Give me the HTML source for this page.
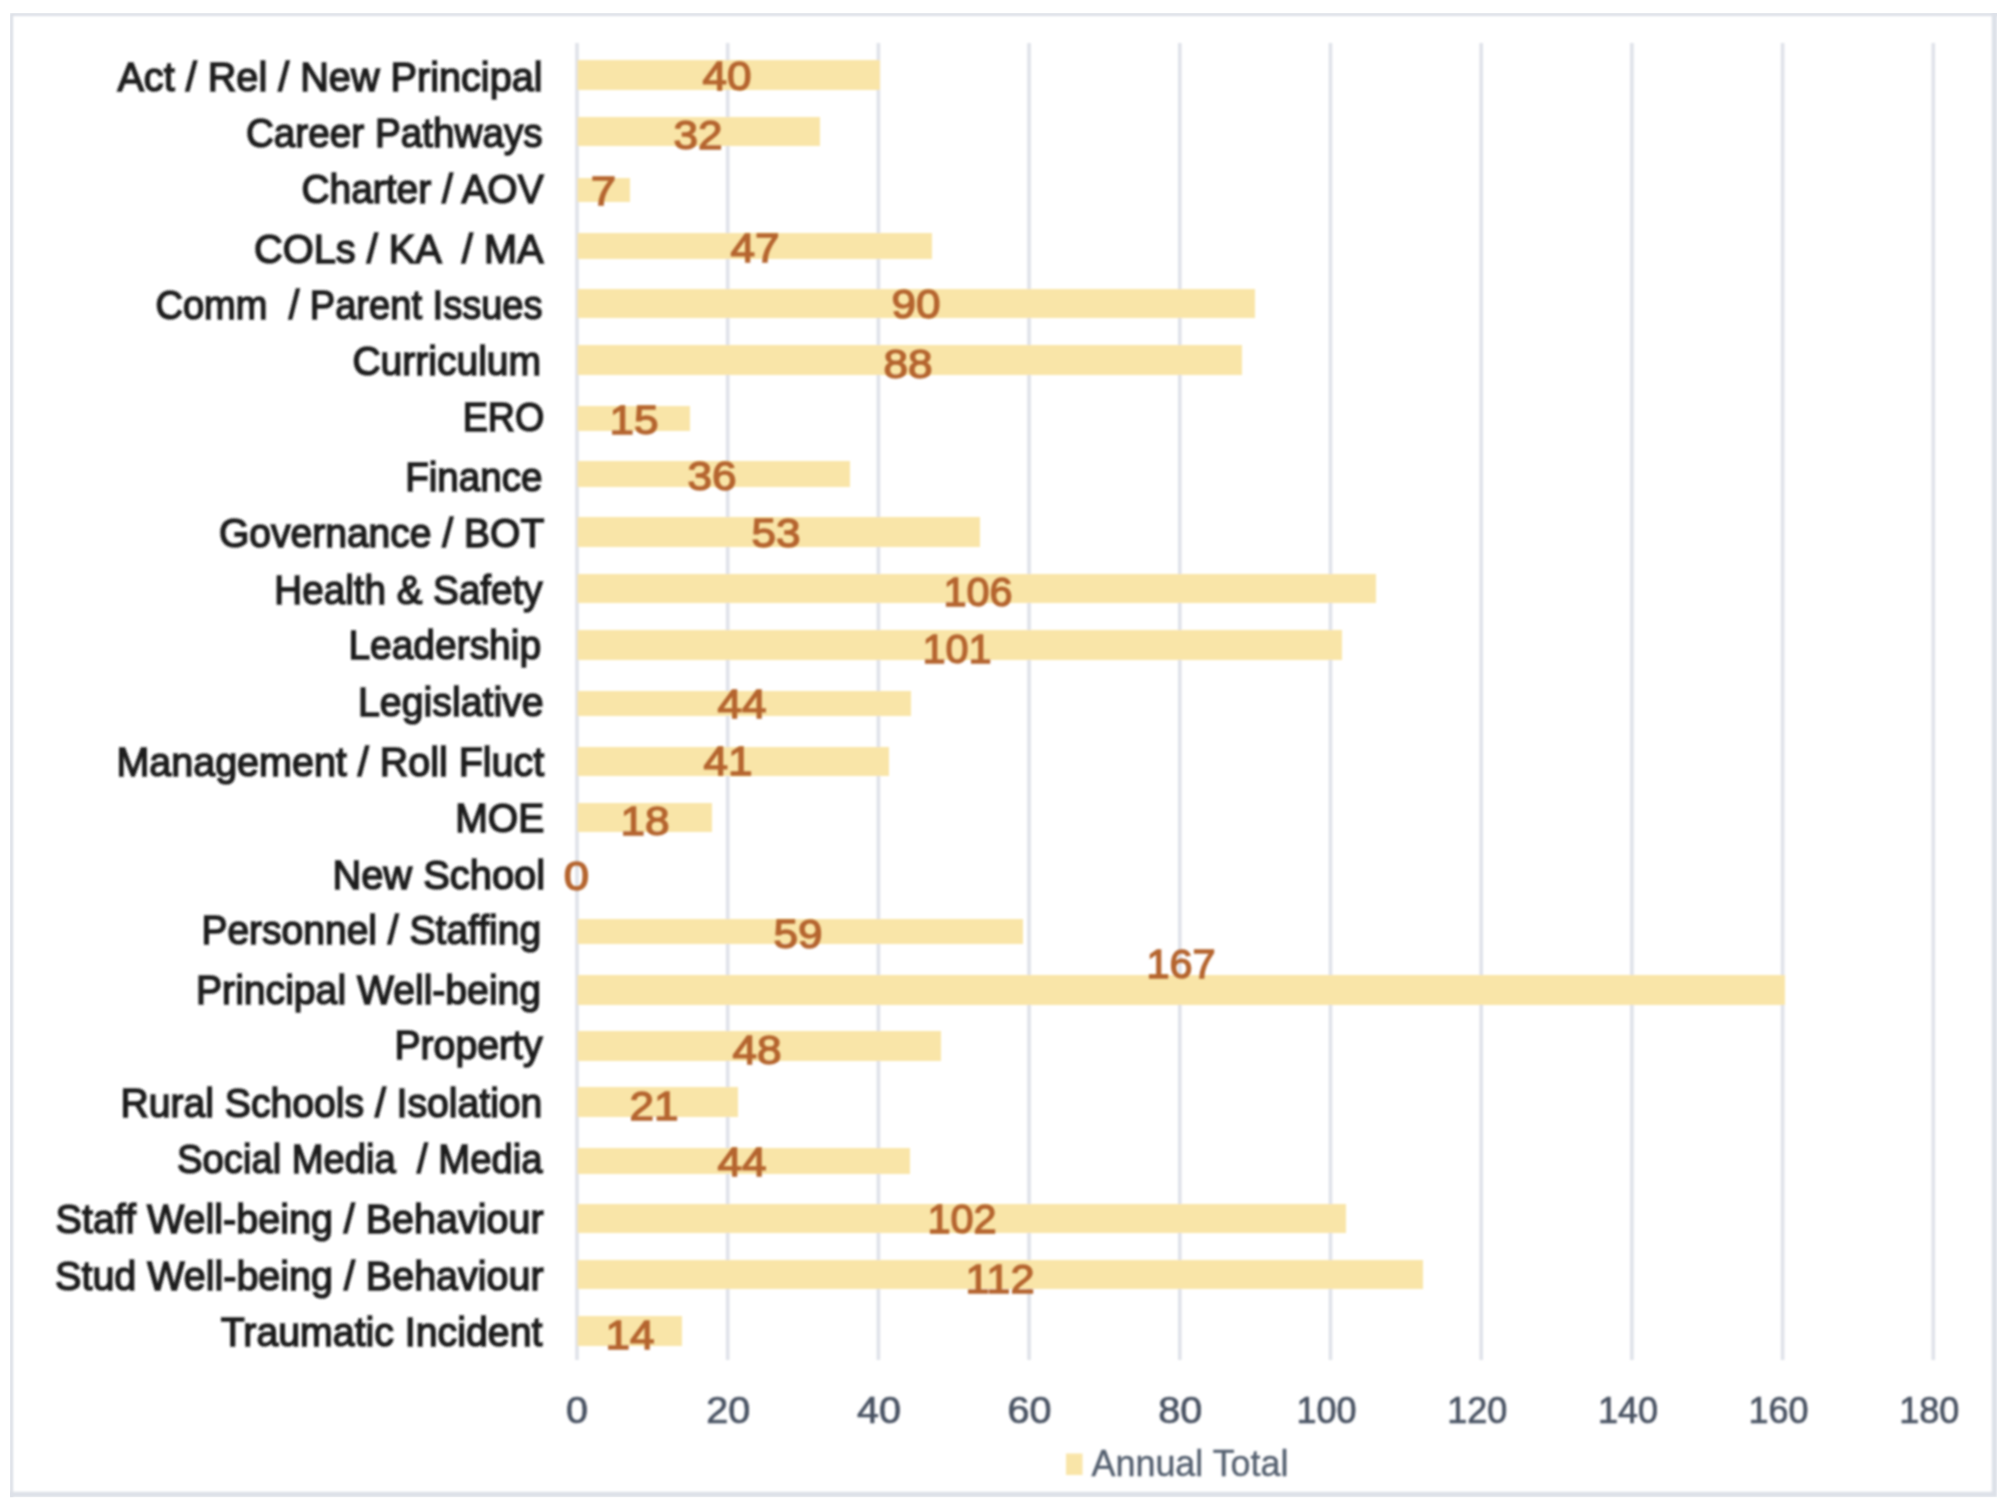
<!DOCTYPE html>
<html>
<head>
<meta charset="utf-8">
<title>Annual Total</title>
<style>
html, body { margin: 0; padding: 0; background: #ffffff; }
body { width: 2000px; height: 1500px; overflow: hidden; font-family: "Liberation Sans", sans-serif; }
svg { display: block; }
text { font-family: "Liberation Sans", sans-serif; }
.cat { white-space: pre; fill: #1c1c1c; stroke: #1c1c1c; stroke-width: 1.5px; font-size: 41.5px; }
.val { fill: #b5652e; stroke: #b5652e; stroke-width: 1.4px; font-size: 41.5px; text-anchor: middle; }
.ax  { fill: #4a5363; stroke: #4a5363; stroke-width: 0.7px; font-size: 36px; text-anchor: middle; }
.leg { fill: #556070; stroke: #556070; stroke-width: 0.4px; font-size: 36px; }
</style>
</head>
<body>
<svg width="2000" height="1500" viewBox="0 0 2000 1500">
<defs>
<filter id="b" x="-2%" y="-2%" width="104%" height="104%"><feGaussianBlur stdDeviation="1.0"/></filter>
<clipPath id="fc"><rect x="10" y="13" width="1987" height="1484.2"/></clipPath>
<filter id="t" x="-2%" y="-2%" width="104%" height="104%"><feGaussianBlur stdDeviation="1.25"/></filter>
</defs>
<rect x="0" y="0" width="2000" height="1500" fill="#ffffff"/>

<g clip-path="url(#fc)"><g filter="url(#b)">
<path d="M11.4 1500 V14.4 H2000" fill="none" stroke="#dbdfe6" stroke-width="3.4"/>
<path d="M5 1494.5 H1994.5 V5" fill="none" stroke="#dde1e8" stroke-width="5.4"/>
</g></g>
<g filter="url(#b)">
<line x1="577.0" y1="43" x2="577.0" y2="1360" stroke="#dfe2e9" stroke-width="3.6"/>
<line x1="727.7" y1="43" x2="727.7" y2="1360" stroke="#dfe2e9" stroke-width="3.6"/>
<line x1="878.4" y1="43" x2="878.4" y2="1360" stroke="#dfe2e9" stroke-width="3.6"/>
<line x1="1029.1" y1="43" x2="1029.1" y2="1360" stroke="#dfe2e9" stroke-width="3.6"/>
<line x1="1179.8" y1="43" x2="1179.8" y2="1360" stroke="#dfe2e9" stroke-width="3.6"/>
<line x1="1330.5" y1="43" x2="1330.5" y2="1360" stroke="#dfe2e9" stroke-width="3.6"/>
<line x1="1481.2" y1="43" x2="1481.2" y2="1360" stroke="#dfe2e9" stroke-width="3.6"/>
<line x1="1631.9" y1="43" x2="1631.9" y2="1360" stroke="#dfe2e9" stroke-width="3.6"/>
<line x1="1782.6" y1="43" x2="1782.6" y2="1360" stroke="#dfe2e9" stroke-width="3.6"/>
<line x1="1933.3" y1="43" x2="1933.3" y2="1360" stroke="#dfe2e9" stroke-width="3.6"/>
<rect x="577.5" y="60.0" width="302.5" height="30.0" fill="#f9e5a8"/>
<rect x="577.5" y="117.0" width="242.5" height="29.0" fill="#f9e5a8"/>
<rect x="577.5" y="178.0" width="52.5" height="24.0" fill="#f9e5a8"/>
<rect x="577.5" y="233.0" width="354.5" height="26.0" fill="#f9e5a8"/>
<rect x="577.5" y="289.0" width="677.5" height="29.0" fill="#f9e5a8"/>
<rect x="577.5" y="345.0" width="664.5" height="30.0" fill="#f9e5a8"/>
<rect x="577.5" y="406.0" width="112.5" height="25.0" fill="#f9e5a8"/>
<rect x="577.5" y="461.0" width="272.5" height="26.0" fill="#f9e5a8"/>
<rect x="577.5" y="517.0" width="402.5" height="30.0" fill="#f9e5a8"/>
<rect x="577.5" y="574.0" width="798.5" height="29.0" fill="#f9e5a8"/>
<rect x="577.5" y="630.0" width="764.5" height="30.0" fill="#f9e5a8"/>
<rect x="577.5" y="691.0" width="333.5" height="25.0" fill="#f9e5a8"/>
<rect x="577.5" y="747.0" width="311.5" height="29.0" fill="#f9e5a8"/>
<rect x="577.5" y="803.0" width="134.5" height="29.0" fill="#f9e5a8"/>
<rect x="577.5" y="919.0" width="445.5" height="25.0" fill="#f9e5a8"/>
<rect x="577.5" y="975.0" width="1207.5" height="30.0" fill="#f9e5a8"/>
<rect x="577.5" y="1031.0" width="363.5" height="30.0" fill="#f9e5a8"/>
<rect x="577.5" y="1087.0" width="160.5" height="30.0" fill="#f9e5a8"/>
<rect x="577.5" y="1148.0" width="332.5" height="26.0" fill="#f9e5a8"/>
<rect x="577.5" y="1204.0" width="768.5" height="29.0" fill="#f9e5a8"/>
<rect x="577.5" y="1260.0" width="845.5" height="29.0" fill="#f9e5a8"/>
<rect x="577.5" y="1316.0" width="104.5" height="30.0" fill="#f9e5a8"/>
<rect x="1066" y="1453.5" width="16.5" height="21.5" fill="#f9e5a8"/>
</g>
<g filter="url(#t)">
<text class="cat" x="117.4" y="90.8" textLength="425.2" lengthAdjust="spacingAndGlyphs" xml:space="preserve">Act / Rel / New Principal</text>
<text class="cat" x="245.9" y="146.6" textLength="296.7" lengthAdjust="spacingAndGlyphs" xml:space="preserve">Career Pathways</text>
<text class="cat" x="301.4" y="202.8" textLength="242.2" lengthAdjust="spacingAndGlyphs" xml:space="preserve">Charter / AOV</text>
<text class="cat" x="254.0" y="262.7" textLength="289.6" lengthAdjust="spacingAndGlyphs" xml:space="preserve">COLs / KA  / MA</text>
<text class="cat" x="155.4" y="318.9" textLength="387.2" lengthAdjust="spacingAndGlyphs" xml:space="preserve">Comm  / Parent Issues</text>
<text class="cat" x="352.4" y="374.8" textLength="188.7" lengthAdjust="spacingAndGlyphs" xml:space="preserve">Curriculum</text>
<text class="cat" x="462.7" y="431.3" textLength="81.6" lengthAdjust="spacingAndGlyphs" xml:space="preserve">ERO</text>
<text class="cat" x="405.2" y="490.7" textLength="137.2" lengthAdjust="spacingAndGlyphs" xml:space="preserve">Finance</text>
<text class="cat" x="218.9" y="547.4" textLength="325.4" lengthAdjust="spacingAndGlyphs" xml:space="preserve">Governance / BOT</text>
<text class="cat" x="274.3" y="603.5" textLength="268.3" lengthAdjust="spacingAndGlyphs" xml:space="preserve">Health &amp; Safety</text>
<text class="cat" x="348.4" y="659.4" textLength="192.7" lengthAdjust="spacingAndGlyphs" xml:space="preserve">Leadership</text>
<text class="cat" x="358.0" y="716.0" textLength="185.6" lengthAdjust="spacingAndGlyphs" xml:space="preserve">Legislative</text>
<text class="cat" x="116.4" y="776.2" textLength="427.9" lengthAdjust="spacingAndGlyphs" xml:space="preserve">Management / Roll Fluct</text>
<text class="cat" x="455.2" y="832.0" textLength="89.1" lengthAdjust="spacingAndGlyphs" xml:space="preserve">MOE</text>
<text class="cat" x="332.4" y="888.7" textLength="212.7" lengthAdjust="spacingAndGlyphs" xml:space="preserve">New School</text>
<text class="cat" x="201.4" y="944.0" textLength="339.7" lengthAdjust="spacingAndGlyphs" xml:space="preserve">Personnel / Staffing</text>
<text class="cat" x="196.0" y="1003.5" textLength="345.1" lengthAdjust="spacingAndGlyphs" xml:space="preserve">Principal Well-being</text>
<text class="cat" x="394.4" y="1058.8" textLength="148.2" lengthAdjust="spacingAndGlyphs" xml:space="preserve">Property</text>
<text class="cat" x="120.4" y="1116.7" textLength="422.0" lengthAdjust="spacingAndGlyphs" xml:space="preserve">Rural Schools / Isolation</text>
<text class="cat" x="177.1" y="1172.9" textLength="365.3" lengthAdjust="spacingAndGlyphs" xml:space="preserve">Social Media  / Media</text>
<text class="cat" x="55.6" y="1232.8" textLength="488.0" lengthAdjust="spacingAndGlyphs" xml:space="preserve">Staff Well-being / Behaviour</text>
<text class="cat" x="55.1" y="1289.5" textLength="488.5" lengthAdjust="spacingAndGlyphs" xml:space="preserve">Stud Well-being / Behaviour</text>
<text class="cat" x="220.8" y="1345.6" textLength="321.6" lengthAdjust="spacingAndGlyphs" xml:space="preserve">Traumatic Incident</text>
<text class="val" x="727.0" y="89.6" textLength="49.1" lengthAdjust="spacingAndGlyphs">40</text>
<text class="val" x="698.0" y="148.8" textLength="49.1" lengthAdjust="spacingAndGlyphs">32</text>
<text class="val" x="603.5" y="204.8" textLength="25.4" lengthAdjust="spacingAndGlyphs">7</text>
<text class="val" x="755.0" y="261.6" textLength="49.1" lengthAdjust="spacingAndGlyphs">47</text>
<text class="val" x="916.0" y="317.6" textLength="49.1" lengthAdjust="spacingAndGlyphs">90</text>
<text class="val" x="908.0" y="377.8" textLength="49.1" lengthAdjust="spacingAndGlyphs">88</text>
<text class="val" x="634.0" y="433.8" textLength="49.1" lengthAdjust="spacingAndGlyphs">15</text>
<text class="val" x="712.0" y="489.8" textLength="49.1" lengthAdjust="spacingAndGlyphs">36</text>
<text class="val" x="776.0" y="546.8" textLength="49.1" lengthAdjust="spacingAndGlyphs">53</text>
<text class="val" x="978.0" y="605.8" textLength="69.2" lengthAdjust="spacingAndGlyphs">106</text>
<text class="val" x="957.0" y="662.8" textLength="69.2" lengthAdjust="spacingAndGlyphs">101</text>
<text class="val" x="742.0" y="717.6" textLength="49.1" lengthAdjust="spacingAndGlyphs">44</text>
<text class="val" x="728.0" y="774.8" textLength="49.1" lengthAdjust="spacingAndGlyphs">41</text>
<text class="val" x="645.0" y="834.8" textLength="49.1" lengthAdjust="spacingAndGlyphs">18</text>
<text class="val" x="576.5" y="889.8" textLength="25.4" lengthAdjust="spacingAndGlyphs">0</text>
<text class="val" x="798.0" y="947.8" textLength="49.1" lengthAdjust="spacingAndGlyphs">59</text>
<text class="val" x="1181.0" y="977.6" textLength="69.2" lengthAdjust="spacingAndGlyphs">167</text>
<text class="val" x="757.0" y="1063.6" textLength="49.1" lengthAdjust="spacingAndGlyphs">48</text>
<text class="val" x="654.0" y="1119.8" textLength="49.1" lengthAdjust="spacingAndGlyphs">21</text>
<text class="val" x="742.0" y="1176.3" textLength="49.1" lengthAdjust="spacingAndGlyphs">44</text>
<text class="val" x="962.0" y="1232.8" textLength="69.2" lengthAdjust="spacingAndGlyphs">102</text>
<text class="val" x="1000.0" y="1292.8" textLength="69.2" lengthAdjust="spacingAndGlyphs">112</text>
<text class="val" x="630.0" y="1348.8" textLength="49.1" lengthAdjust="spacingAndGlyphs">14</text>
<text class="ax" x="577.0" y="1423" textLength="22.0" lengthAdjust="spacingAndGlyphs">0</text>
<text class="ax" x="728.2" y="1423" textLength="44.0" lengthAdjust="spacingAndGlyphs">20</text>
<text class="ax" x="878.9" y="1423" textLength="44.0" lengthAdjust="spacingAndGlyphs">40</text>
<text class="ax" x="1029.6" y="1423" textLength="44.0" lengthAdjust="spacingAndGlyphs">60</text>
<text class="ax" x="1180.3" y="1423" textLength="44.0" lengthAdjust="spacingAndGlyphs">80</text>
<text class="ax" x="1326.5" y="1423" textLength="60.0" lengthAdjust="spacingAndGlyphs">100</text>
<text class="ax" x="1477.2" y="1423" textLength="60.0" lengthAdjust="spacingAndGlyphs">120</text>
<text class="ax" x="1627.9" y="1423" textLength="60.0" lengthAdjust="spacingAndGlyphs">140</text>
<text class="ax" x="1778.6" y="1423" textLength="60.0" lengthAdjust="spacingAndGlyphs">160</text>
<text class="ax" x="1929.3" y="1423" textLength="60.0" lengthAdjust="spacingAndGlyphs">180</text>
<text class="leg" x="1091.5" y="1475.5" textLength="197" lengthAdjust="spacingAndGlyphs">Annual Total</text>
</g>
</svg>
</body>
</html>
